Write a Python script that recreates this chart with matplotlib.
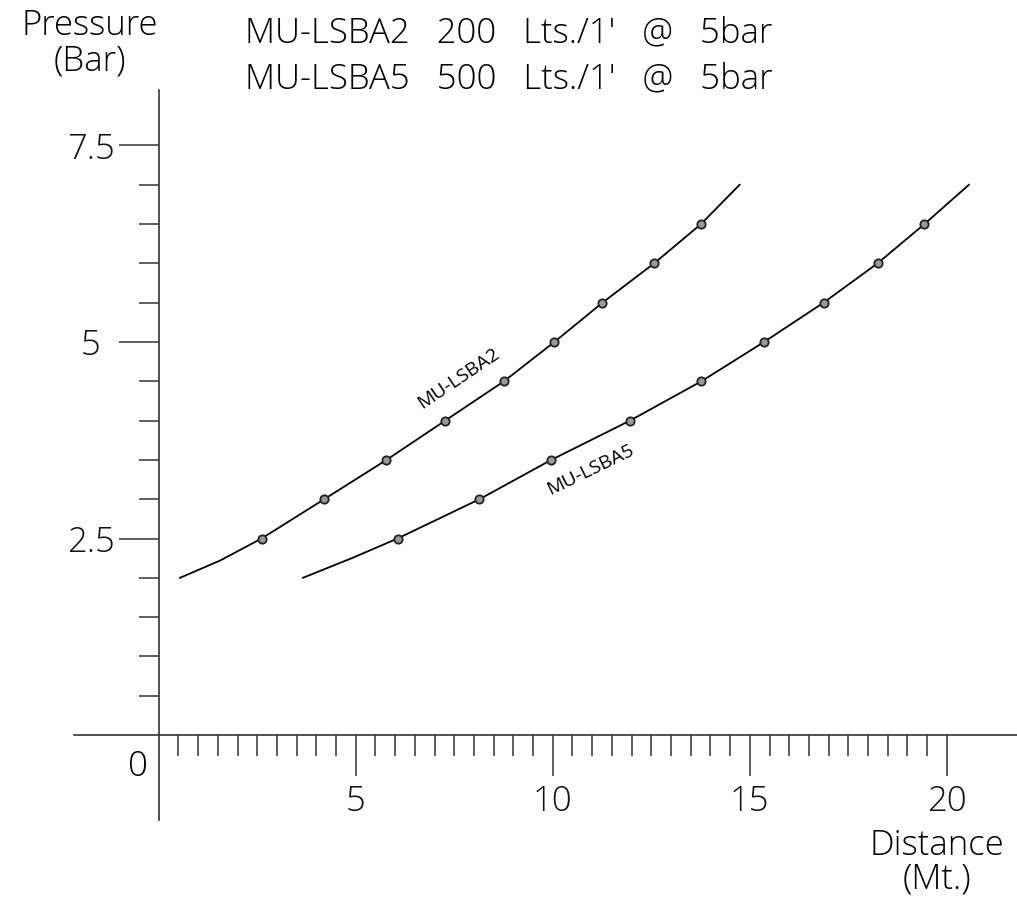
import matplotlib.pyplot as plt

plt.rcParams["font.family"] = ["Open Sans", "DejaVu Sans"]

# curve of MU-LSBA2 (distance in Mt., pressure in bar)
lsba2_dist = [0.54, 1.56, 2.61, 4.20, 5.78, 7.27, 8.76, 10.04, 11.26, 12.57, 13.76, 14.74]
lsba2_pres = [2.0, 2.22, 2.5, 3.0, 3.5, 4.0, 4.5, 5.0, 5.5, 6.0, 6.5, 7.0]
# marked points on MU-LSBA2
lsba2_mark_dist = [2.61, 4.20, 5.78, 7.27, 8.76, 10.04, 11.26, 12.57, 13.76]
lsba2_mark_pres = [2.5, 3.0, 3.5, 4.0, 4.5, 5.0, 5.5, 6.0, 6.5]

# curve of MU-LSBA5
lsba5_dist = [3.66, 4.90, 6.06, 8.14, 9.96, 11.96, 13.77, 15.36, 16.87, 18.24, 19.43, 20.56]
lsba5_pres = [2.0, 2.25, 2.5, 3.0, 3.5, 4.0, 4.5, 5.0, 5.5, 6.0, 6.5, 7.0]
lsba5_mark_dist = [6.06, 8.14, 9.96, 11.96, 13.77, 15.36, 16.87, 18.24, 19.43]
lsba5_mark_pres = [2.5, 3.0, 3.5, 4.0, 4.5, 5.0, 5.5, 6.0, 6.5]

x_major = [5, 10, 15, 20]
x_minor = [v / 2 for v in range(1, 40) if v % 10 != 0]
y_major = [2.5, 5, 7.5]
y_minor = [0.5, 1, 1.5, 2, 3, 3.5, 4, 4.5, 5.5, 6, 6.5, 7]

title_lines = ["MU-LSBA2   200   Lts./1'   @   5bar", "MU-LSBA5   500   Lts./1'   @   5bar"]

axis_color = "#333333"
W, H = 1017, 900

fig = plt.figure(figsize=(W / 100, H / 100), dpi=100)
fig.set_facecolor("w")
ax = fig.add_axes([0, 0, 1, 1])
ax.set_xlim(-4.028, 21.78)
ax.set_ylim(-2.099, 9.351)

for s in ["top", "right"]:
    ax.spines[s].set_visible(False)
ax.spines["left"].set_position(("data", 0))
ax.spines["bottom"].set_position(("data", 0))
ax.spines["left"].set_bounds(-1.08, 8.2)
ax.spines["bottom"].set_bounds(-2.16, 21.78)
for s in ["left", "bottom"]:
    ax.spines[s].set_color(axis_color)
    ax.spines[s].set_linewidth(1.2)

ax.set_xticks(x_major)
ax.set_xticks(x_minor, minor=True)
ax.set_yticks(y_major)
ax.set_yticks(y_minor, minor=True)
ax.set_xticklabels([str(v) for v in x_major])
ax.set_yticklabels(["2.5", "5", "7.5"])
ax.tick_params(axis="x", which="major", length=29.5, width=1.1, color=axis_color,
               labelsize=25, pad=6, labelcolor="#111111")
ax.tick_params(axis="x", which="minor", length=15, width=1.1, color=axis_color)
ax.tick_params(axis="y", which="major", length=28.8, width=1.1, color=axis_color,
               labelsize=25, pad=20, labelcolor="#111111")
ax.tick_params(axis="y", which="minor", length=14.4, width=1.1, color=axis_color)
for lbl in ax.get_yticklabels():
    lbl.set_horizontalalignment("center")
    lbl.set_fontweight("light")
for lbl in ax.get_xticklabels():
    lbl.set_fontweight("light")

# curves
ax.plot(lsba2_dist, lsba2_pres, color="black", lw=1.3)
ax.plot(lsba5_dist, lsba5_pres, color="black", lw=1.3)
ax.plot(lsba2_mark_dist, lsba2_mark_pres, "o", ms=6, mfc="#999999", mec="#222222", mew=1.3)
ax.plot(lsba5_mark_dist, lsba5_mark_pres, "o", ms=6, mfc="#999999", mec="#222222", mew=1.3)

ax.text(7.62, 4.54, "MU-LSBA2", rotation=34, rotation_mode="anchor",
        ha="center", va="center", fontsize=14)
ax.text(10.95, 3.38, "MU-LSBA5", rotation=26, rotation_mode="anchor",
        ha="center", va="center", fontsize=14)


def px_text(x, y, s, **kw):
    fig.text(x / W, 1 - y / H, s, fontsize=25, fontweight="light", va="baseline", **kw)


px_text(245, 42, title_lines[0], ha="left")
px_text(245, 88, title_lines[1], ha="left")
px_text(90, 35, "Pressure", ha="center")
px_text(90, 70, "(Bar)", ha="center")
px_text(937, 855, "Distance", ha="center")
px_text(937, 888, "(Mt.)", ha="center")
px_text(138, 776, "0", ha="center")

fig.savefig("out.png", dpi=100, facecolor="w")
